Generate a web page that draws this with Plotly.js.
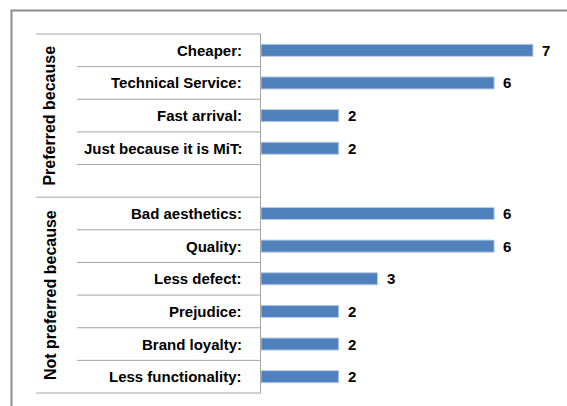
<!DOCTYPE html>
<html><head><meta charset="utf-8">
<script src="https://cdn.plot.ly/plotly-3.0.1.min.js"></script>
<style>body{margin:0;background:#fff;}</style></head>
<body><div id="chart" style="width:567px;height:406px;"></div>
<script>
const groupPreferred = "Preferred because";
const groupNotPreferred = "Not preferred because";
const preferredCategories = ["Cheaper:", "Technical Service:", "Fast arrival:", "Just because it is MiT:"];
const preferredValues = [7, 6, 2, 2];
const notPreferredCategories = ["Bad aesthetics:", "Quality:", "Less defect:", "Prejudice:", "Brand loyalty:", "Less functionality:"];
const notPreferredValues = [6, 6, 3, 2, 2, 2];

const W = 567, H = 406;
const mL = 261, mR = 1, mT = 34, mB = 13;
const plotW = W - mL - mR, plotH = H - mT - mB;
const px2x = p => (p - mL) / plotW;
const py2y = p => (H - mB - p) / plotH;

// category ids: preferred rows, one blank row, not-preferred rows
const ids = [], labels = [], vals = [];
preferredCategories.forEach((c, i) => { ids.push('p' + i); labels.push(c); vals.push(preferredValues[i]); });
ids.push('gap'); labels.push(''); vals.push(null);
notPreferredCategories.forEach((c, i) => { ids.push('n' + i); labels.push(c); vals.push(notPreferredValues[i]); });
const nRows = ids.length;
const fontFam = '"Liberation Sans", Arial, sans-serif';

const trace = {
  type: 'bar', orientation: 'h',
  x: vals, y: ids,
  marker: { color: '#4F81BD', line: { color: '#B9CDE5', width: 1 } },
  hoverinfo: 'skip'
};

const annotations = [];
ids.forEach((id, i) => {
  if (vals[i] == null) return;
  annotations.push({ x: vals[i], y: id, xref: 'x', yref: 'y', text: String(vals[i]),
    showarrow: false, xanchor: 'left', xshift: 7,
    font: { family: fontFam, size: 15, color: '#000', weight: 'bold' } });
  annotations.push({ x: px2x(244), y: id, xref: 'paper', yref: 'y', text: labels[i],
    showarrow: false, xanchor: 'right',
    font: { family: fontFam, size: 15, color: '#000', weight: 'bold' } });
});
// group labels
const gP = preferredCategories.length + 1; // rows in first group (incl blank)
const rowFrac = 1 / nRows;
annotations.push({ x: px2x(50), y: 1 - (gP / 2) * rowFrac, xref: 'paper', yref: 'paper',
  text: groupPreferred, textangle: -90, showarrow: false, xanchor: 'center', yanchor: 'middle',
  font: { family: fontFam, size: 16, color: '#000', weight: 'bold' } });
annotations.push({ x: px2x(50), y: 1 - (gP + notPreferredCategories.length / 2) * rowFrac, xref: 'paper', yref: 'paper',
  text: groupNotPreferred, textangle: -90, showarrow: false, xanchor: 'center', yanchor: 'middle',
  font: { family: fontFam, size: 16, color: '#000', weight: 'bold' } });

const shapes = [];
for (let b = 0; b <= nRows; b++) {
  const isGroup = (b === 0 || b === gP || b === nRows);
  const yy = 1 - b * rowFrac;
  shapes.push({ type: 'line', xref: 'paper', yref: 'paper',
    x0: px2x(isGroup ? 36 : 77), x1: 0, y0: yy, y1: yy,
    line: { color: '#A6A6A6', width: 1 } });
}
// outer frame
shapes.push({ type: 'rect', xref: 'paper', yref: 'paper',
  x0: px2x(11.5), x1: px2x(700), y0: py2y(10.5), y1: py2y(700),
  line: { color: '#8C8C8C', width: 2 }, fillcolor: 'rgba(0,0,0,0)' });

const layout = {
  width: W, height: H,
  margin: { l: mL, r: mR, t: mT, b: mB, pad: 0 },
  paper_bgcolor: '#fff', plot_bgcolor: '#fff',
  showlegend: false,
  bargap: 0.63,
  xaxis: { range: [0, 7.85], showgrid: false, zeroline: false, showticklabels: false, ticks: '', showline: false, fixedrange: true },
  yaxis: { type: 'category', categoryorder: 'array', categoryarray: ids, range: [nRows - 0.5, -0.5],
    showticklabels: false, ticks: '', showgrid: false, zeroline: false,
    showline: true, linecolor: '#A6A6A6', linewidth: 1, fixedrange: true },
  shapes: shapes,
  annotations: annotations
};
Plotly.newPlot('chart', [trace], layout, { displayModeBar: false, staticPlot: true });
</script></body></html>
